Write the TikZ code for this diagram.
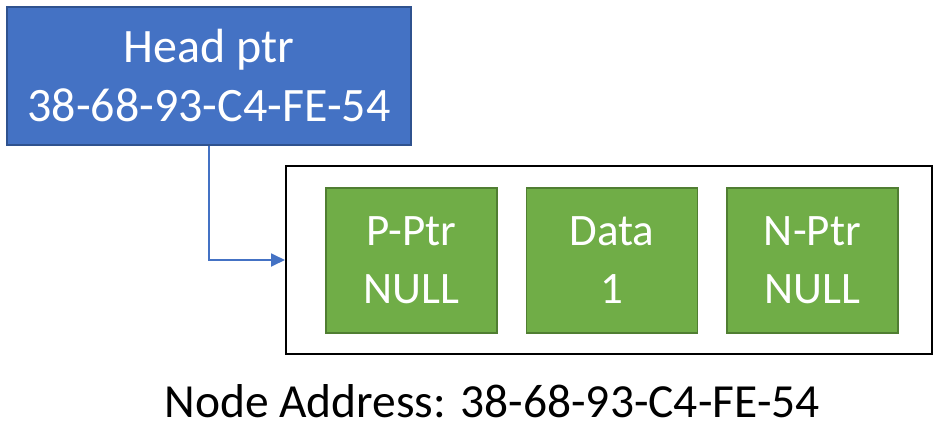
\documentclass[tikz,border=0pt]{standalone}
\usepackage{fontspec}
\setmainfont{Carlito}
\usetikzlibrary{arrows.meta}
\definecolor{hblue}{HTML}{4472C4}
\definecolor{hblueline}{HTML}{2F528F}
\definecolor{cgreen}{HTML}{70AD47}
\definecolor{cgreenline}{HTML}{507E32}
\begin{document}
\begin{tikzpicture}[x=1pt,y=-1pt,
  headbox/.style={draw=hblueline, fill=hblue, line width=1.5pt, text=white,
    minimum width=404pt, minimum height=138pt, inner sep=0pt, align=center,
    font=\fontsize{48}{59}\selectfont},
  field/.style={draw=cgreenline, fill=cgreen, line width=1.5pt, text=white,
    minimum width=171pt, minimum height=145pt, inner sep=0pt, align=center,
    font=\fontsize{45}{58}\selectfont},
  frame/.style={draw=black, line width=2pt, minimum width=646pt,
    minimum height=188pt, inner sep=0pt},
  link/.style={draw=hblue, line width=1.8pt, -{Triangle[length=14pt,width=13pt]}}
]
\useasboundingbox (0,0) rectangle (935,421);
% head pointer
\node[headbox] (head) at (209,76) {Head ptr\\38-68-93-C4-FE-54};
% list node with its three fields
\node[frame] (node) at (609,260) {};
\node[field] (prev) at (411.5,260.5) {P-Ptr\\NULL};
\node[field] (data) at (612,260.5) {Data\\1};
\node[field] (next) at (812.5,260.5) {N-Ptr\\NULL};
% address caption
\node[anchor=base, inner sep=0pt, text depth=0pt, font=\fontsize{47.5}{59}\selectfont] (addr) at (492,417) {Node Address: 38-68-93-C4-FE-54};
% head pointer to node
\draw[link] (head.south) |- (node.west);
\end{tikzpicture}
\end{document}
